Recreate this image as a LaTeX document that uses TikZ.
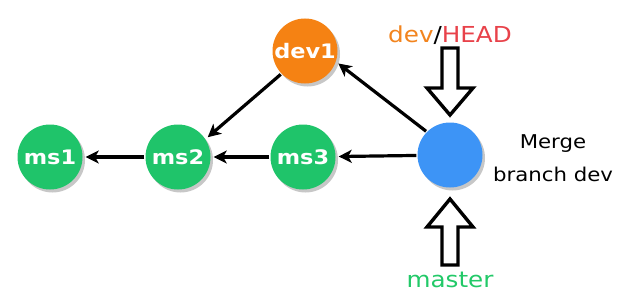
\documentclass[tikz,border=0pt]{standalone}
\usepackage{fontspec}
\setmainfont{DejaVu Sans}[FakeStretch=1.12]
\usetikzlibrary{arrows.meta,shadows}
\definecolor{msgreen}{HTML}{1FC46A}
\definecolor{devorange}{HTML}{F58213}
\definecolor{mergeblue}{HTML}{3D94F6}
\definecolor{txtorange}{HTML}{F2841E}
\definecolor{txtred}{HTML}{E8424A}
\definecolor{txtgreen}{HTML}{22C968}
\begin{document}
\begin{tikzpicture}[x=1pt,y=-1pt,
  commit/.style={circle, minimum size=65pt, inner sep=0pt, text=white,
    font=\bfseries\fontsize{20}{22}\selectfont,
    drop shadow={shadow xshift=2.5pt, shadow yshift=-3pt, fill=black!22, opacity=1}},
  arr/.style={line width=3.2pt, -{Stealth[length=13pt,width=13pt,inset=3.5pt]}, shorten >=3pt, shorten <=1pt},
  block/.style={draw=black, line width=3.4pt, fill=white, line join=miter},
  lbl/.style={font=\fontsize{22}{24}\selectfont, inner sep=0pt}]
\useasboundingbox (0,0) rectangle (626,305);
\node[commit, fill=msgreen] (ms1) at (50,157) {ms1};
\node[commit, fill=msgreen] (ms2) at (178,157) {ms2};
\node[commit, fill=msgreen] (ms3) at (303,157) {ms3};
\node[commit, fill=devorange] (dev1) at (305,51) {dev1};
\node[commit, fill=mergeblue] (merge) at (450,155) {};
\draw[arr] (ms2) -- (ms1);
\draw[arr] (ms3) -- (ms2);
\draw[arr] (merge) -- (ms3);
\draw[arr] (dev1.224) -- (ms2.33);
\draw[arr] (merge.135) -- (dev1.-19);
% hollow block arrows
\draw[block] (442,48) -- (458,48) -- (458,88) -- (473,88) -- (450,115) -- (427,88) -- (442,88) -- cycle;
\draw[block] (442,265) -- (458,265) -- (458,227) -- (473,227) -- (450,199) -- (427,227) -- (442,227) -- cycle;
\node[lbl] (head) at (450,35) {\textcolor{txtorange}{dev}/\textcolor{txtred}{HEAD}};
\node[lbl, text=txtgreen] (master) at (450,280) {master};
\node[font=\fontsize{19}{33}\selectfont, align=center, inner sep=0pt] (msg) at (553,158) {Merge\\branch dev};
\end{tikzpicture}
\end{document}
